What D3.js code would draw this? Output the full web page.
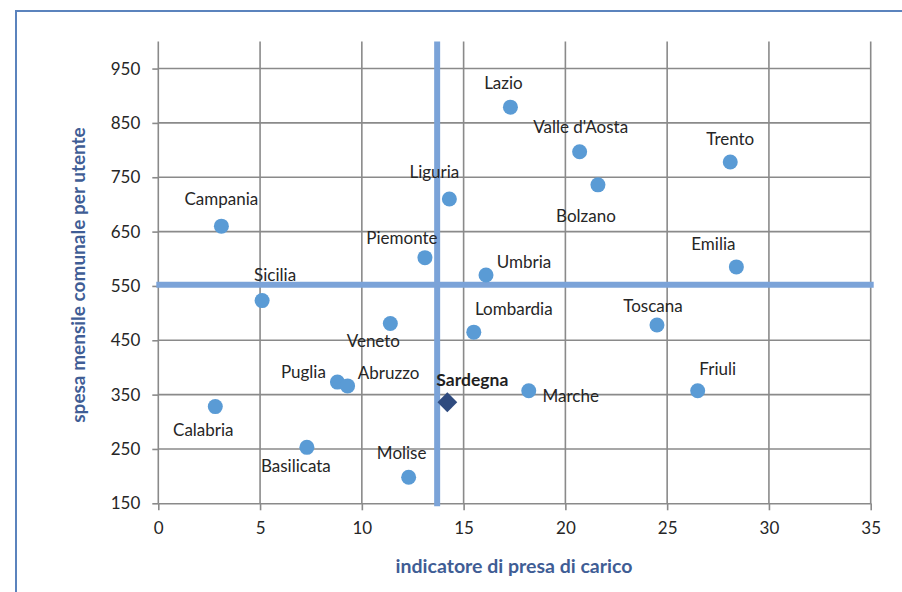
<!DOCTYPE html>
<html>
<head>
<meta charset="utf-8">
<script src="https://cdn.jsdelivr.net/npm/d3@7"></script>
<style>
  body { margin: 0; background: #fff; }
  svg { display: block; font-family: Lato, "Open Sans", sans-serif; }
</style>
</head>
<body>
<svg id="chart" width="902" height="592"></svg>
<script>
// Regions, x = indicatore di presa di carico, y = spesa mensile comunale per utente
const regions = ['Campania', 'Sicilia', 'Piemonte', 'Liguria', 'Lazio', 'Valle d\'Aosta', 'Bolzano',
    'Trento', 'Emilia', 'Umbria', 'Lombardia', 'Toscana', 'Marche', 'Friuli', 'Veneto',
    'Puglia', 'Abruzzo', 'Calabria', 'Basilicata', 'Molise'];
const presa = [3.1, 5.1, 13.1, 14.3, 17.3, 20.7, 21.6, 28.1, 28.4, 16.1, 15.5, 24.5, 18.2, 26.5, 11.4,
    8.8, 9.3, 2.8, 7.3, 12.3];
const spesa = [660, 523, 602, 710, 879, 797, 736, 778, 585, 570, 465, 478, 357, 357, 481,
    373, 366, 328, 253, 198];

// Sardegna, highlighted separately
const highlightName = 'Sardegna';
const highlightPresa = 14.2;
const highlightSpesa = 336;

// Italian averages (the two thick lines)
const meanPresa = 13.7;
const meanSpesa = 552;

const xTicks = [0, 5, 10, 15, 20, 25, 30, 35];
const yTicks = [150, 250, 350, 450, 550, 650, 750, 850, 950];

// label placement relative to the point (text centre)
const labelOffset = {
    'Campania': [0, -27], 'Sicilia': [13, -26], 'Piemonte': [-23, -20], 'Liguria': [-15, -27],
    'Lazio': [-7, -24], 'Valle d\'Aosta': [1, -25], 'Bolzano': [-12, 31], 'Trento': [0, -23],
    'Emilia': [-23, -23], 'Umbria': [38, -13], 'Lombardia': [40, -23], 'Toscana': [-4, -19],
    'Marche': [42, 5], 'Friuli': [20, -22], 'Veneto': [-17, 18], 'Puglia': [-34, -10],
    'Abruzzo': [41, -13], 'Calabria': [-12, 23], 'Basilicata': [-11, 19], 'Molise': [-7, -24]
};

const svg = d3.select('#chart');

const x = d3.scaleLinear().domain([0, 35]).range([158.3, 870.7]);
const y = d3.scaleLinear().domain([150, 1000]).range([503.3, 41.4]);

// outer frame (runs off the page on the right and bottom)
svg.append('rect')
    .attr('x', 16).attr('y', 11)
    .attr('width', 1000).attr('height', 700)
    .attr('fill', 'none')
    .attr('stroke', '#5b83bd')
    .attr('stroke-width', 2);

const gridColor = '#8a8a8a';

// vertical gridlines
svg.append('g')
    .selectAll('line')
    .data(xTicks.slice(1))
    .join('line')
    .attr('x1', d => x(d)).attr('x2', d => x(d))
    .attr('y1', y(1000)).attr('y2', y(150))
    .attr('stroke', gridColor)
    .attr('stroke-width', 1.6);

// horizontal gridlines
svg.append('g')
    .selectAll('line')
    .data(yTicks.slice(1))
    .join('line')
    .attr('x1', x(0)).attr('x2', x(35))
    .attr('y1', d => y(d)).attr('y2', d => y(d))
    .attr('stroke', gridColor)
    .attr('stroke-width', 1.6);

// axes
const xAxis = svg.append('g')
    .attr('transform', `translate(0,${y(150)})`)
    .call(d3.axisBottom(x).tickValues(xTicks).tickSize(7).tickSizeOuter(0).tickPadding(12));

const yAxis = svg.append('g')
    .attr('transform', `translate(${x(0)},0)`)
    .call(d3.axisLeft(y).tickValues(yTicks).tickSize(6).tickSizeOuter(0).tickPadding(12));

[xAxis, yAxis].forEach(g => {
    g.select('.domain').attr('stroke', gridColor).attr('stroke-width', 1.6);
    g.selectAll('.tick line').attr('stroke', gridColor).attr('stroke-width', 1.6);
    g.selectAll('.tick text')
        .attr('fill', '#262626')
        .attr('font-size', 17)
        .attr('font-family', 'Lato, sans-serif');
});
yAxis.select('.domain').attr('d', `M0,${y(1000)}V${y(150)}`);

// average lines
svg.append('line')
    .attr('x1', x(meanPresa)).attr('x2', x(meanPresa))
    .attr('y1', y(1000)).attr('y2', y(150) + 3)
    .attr('stroke', '#7ba3d8')
    .attr('stroke-width', 6);

svg.append('line')
    .attr('x1', x(0) - 2).attr('x2', x(35) + 3)
    .attr('y1', y(meanSpesa)).attr('y2', y(meanSpesa))
    .attr('stroke', '#7ba3d8')
    .attr('stroke-width', 6);

// points
svg.append('g')
    .selectAll('circle')
    .data(regions)
    .join('circle')
    .attr('cx', (d, i) => x(presa[i]))
    .attr('cy', (d, i) => y(spesa[i]))
    .attr('r', 7.5)
    .attr('fill', '#5a9bd5');

svg.append('path')
    .attr('d', d3.symbol(d3.symbolDiamond2, 250)())
    .attr('transform', `translate(${x(highlightPresa)},${y(highlightSpesa)})`)
    .attr('fill', '#2f4b7f');

// labels
svg.append('g')
    .selectAll('text')
    .data(regions)
    .join('text')
    .attr('x', (d, i) => x(presa[i]) + labelOffset[d][0])
    .attr('y', (d, i) => y(spesa[i]) + labelOffset[d][1])
    .attr('dy', '0.35em')
    .attr('text-anchor', 'middle')
    .attr('font-size', 17)
    .attr('fill', '#262626')
    .text(d => d);

svg.append('text')
    .attr('x', x(highlightPresa) + 25)
    .attr('y', y(highlightSpesa) - 22)
    .attr('dy', '0.35em')
    .attr('text-anchor', 'middle')
    .attr('font-size', 17.5)
    .attr('font-weight', 'bold')
    .attr('fill', '#1f1f1f')
    .text(highlightName);

// axis titles
svg.append('text')
    .attr('x', 514)
    .attr('y', 566)
    .attr('dy', '0.35em')
    .attr('text-anchor', 'middle')
    .attr('font-size', 19.5)
    .attr('font-weight', 'bold')
    .attr('fill', '#3f5d95')
    .text('indicatore di presa di carico');

svg.append('text')
    .attr('transform', 'translate(78,275) rotate(-90)')
    .attr('dy', '0.35em')
    .attr('text-anchor', 'middle')
    .attr('font-size', 19)
    .attr('font-weight', 'bold')
    .attr('fill', '#3f5d95')
    .text('spesa mensile comunale per utente');
</script>
</body>
</html>
